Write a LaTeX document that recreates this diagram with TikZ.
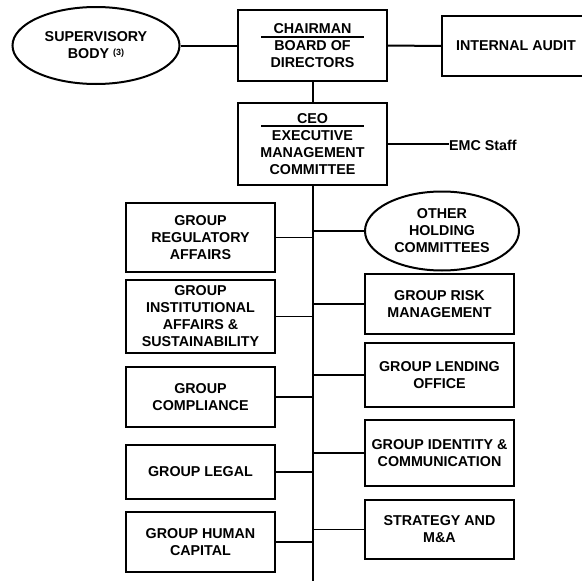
\documentclass[tikz,border=0pt]{standalone}
\usepackage{fontspec}
\setmainfont{Liberation Sans}
\usetikzlibrary{shapes.geometric}
\tikzset{
  base/.style={draw=black, line width=2pt, inner sep=0pt, align=center,
    font=\fontsize{14.3}{17}\selectfont\bfseries},
  unit/.style={base, rectangle, minimum width=149pt},
  oval/.style={base, ellipse},
  conn/.style={line width=2pt},
  branch/.style={line width=1.5pt},
  rulebar/.style={line width=1.5pt},
}
\begin{document}
\begin{tikzpicture}[x=1pt,y=-1pt]
\useasboundingbox (0,0) rectangle (582,581);
% top level
\node[unit, minimum height=71pt] (chair) at (312.5,45.5) {CHAIRMAN\\BOARD OF\\DIRECTORS};
\node[unit, minimum height=82pt] (ceo) at (312.5,144) {CEO\\EXECUTIVE\\MANAGEMENT\\COMMITTEE};
\node[oval, minimum width=167pt, minimum height=77pt] (sup) at (96,45.5)
  {SUPERVISORY\\BODY {\fontsize{9}{9}\selectfont\raisebox{3.5pt}{(3)}}};
\node[unit, minimum width=148pt, minimum height=60pt] (audit) at (516,46) {INTERNAL AUDIT};
\node[font=\fontsize{14.3}{17}\selectfont\bfseries, anchor=west, inner sep=0pt] (emc) at (449,145.5) {EMC Staff};
\coordinate (bottom) at (312.5,590);
% rules inside chairman / ceo
\draw[rulebar] ([xshift=-51.5pt]chair.center |- 0,37) -- ([xshift=51.5pt]chair.center |- 0,37);
\draw[rulebar] ([xshift=-51.5pt]ceo.center |- 0,126) -- ([xshift=51.5pt]ceo.center |- 0,126);
% left units
\node[unit, minimum height=69pt] (reg) at (200.5,237.5) {GROUP\\REGULATORY\\AFFAIRS};
\node[unit, minimum height=73pt] (inst) at (200.5,316.5) {GROUP\\INSTITUTIONAL\\AFFAIRS \&\\SUSTAINABILITY};
\node[unit, minimum height=60pt] (comp) at (200.5,397) {GROUP\\COMPLIANCE};
\node[unit, minimum height=54pt] (legal) at (200.5,472) {GROUP LEGAL};
\node[unit, minimum height=60pt] (human) at (200.5,542) {GROUP HUMAN\\CAPITAL};
% right units
\node[oval, minimum width=154pt, minimum height=79pt] (other) at (442,231) {OTHER\\HOLDING\\COMMITTEES};
\node[unit, minimum height=60pt] (risk) at (439.5,304) {GROUP RISK\\MANAGEMENT};
\node[unit, minimum height=64pt] (lend) at (439.5,375) {GROUP LENDING\\OFFICE};
\node[unit, minimum height=66pt] (ident) at (439.5,453) {GROUP IDENTITY \&\\COMMUNICATION};
\node[unit, minimum height=59pt] (strat) at (439.5,529.5) {STRATEGY AND\\M\&A};
% connectors
\draw[conn] (sup.east) -- (chair.west);
\draw[conn] (chair.east) -- (audit.west);
\draw[conn] (chair.south) -- (ceo.north);
\draw[conn] (ceo.east) -- (ceo.east -| emc.west);
\draw[conn] (ceo.south) -- (bottom);
\foreach \n in {reg,inst,comp,legal,human}
  \draw[branch] (\n.east) -- (\n.east -| bottom);
\foreach \n in {other,risk,lend,ident,strat}
  \draw[branch] (\n.west -| bottom) -- (\n.west);
\end{tikzpicture}
\end{document}
